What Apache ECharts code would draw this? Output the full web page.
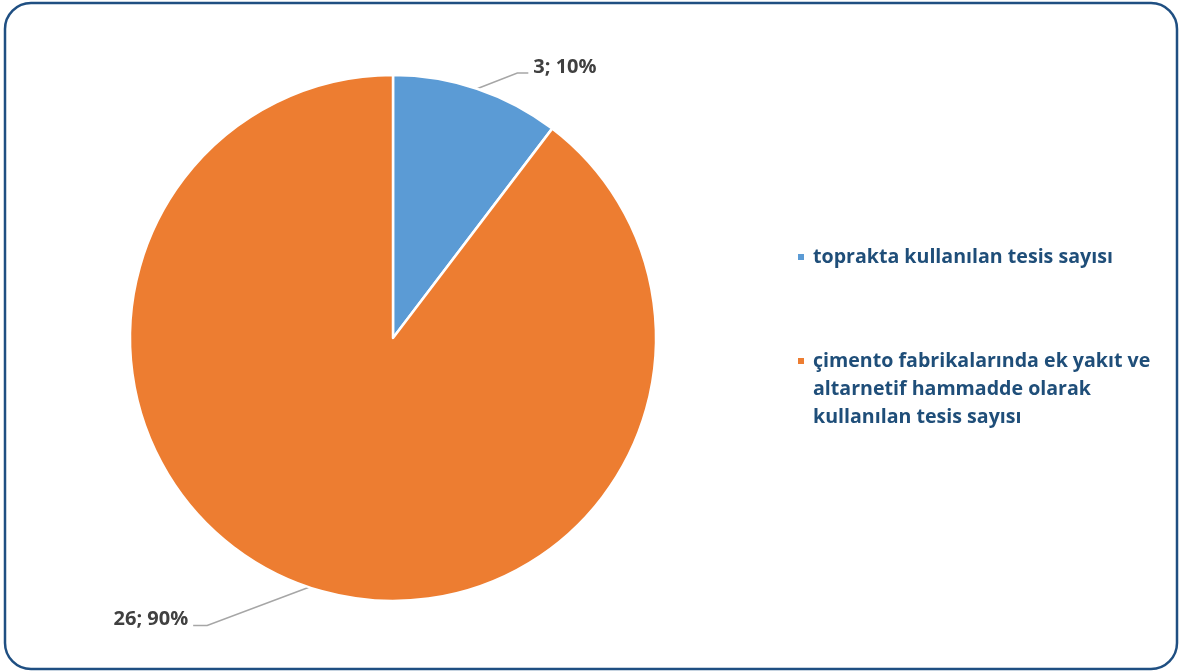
<!DOCTYPE html>
<html>
<head>
<meta charset="utf-8">
<script src="https://cdn.jsdelivr.net/npm/echarts@6/dist/echarts.min.js"></script>
<style>
  html, body { margin: 0; padding: 0; background: #ffffff; }
  #chart { width: 1180px; height: 672px; }
</style>
</head>
<body>
<div id="chart"></div>
<script>
// Facility counts by disposal route
const categories = [
  'toprakta kullanılan tesis sayısı',
  'çimento fabrikalarında ek yakıt ve altarnetif hammadde olarak kullanılan tesis sayısı'
];
const values = [3, 26];
const colors = ['#5b9bd5', '#ed7d31'];
// Legend text broken into display lines
const legendLines = [
  ['toprakta kullanılan tesis sayısı'],
  ['çimento fabrikalarında ek yakıt ve', 'altarnetif hammadde olarak', 'kullanılan tesis sayısı']
];

const FONT = '"Open Sans", "DejaVu Sans", sans-serif';
const LEGEND_LH = 28;

const chart = echarts.init(document.getElementById('chart'), null, { renderer: 'canvas' });

function legendFor(i, top) {
  const lines = legendLines[i];
  // blank lines above keep the marker level with the first text line
  const pad = [];
  for (let k = 1; k < lines.length; k++) pad.push('');
  const text = pad.concat(lines).join('\n');
  return {
    orient: 'vertical',
    left: 796,
    top: top,
    padding: 0,
    icon: 'rect',
    itemWidth: 8,
    itemHeight: 8,
    selectedMode: false,
    data: [categories[i]],
    formatter: function () { return text; },
    textStyle: {
      fontFamily: FONT,
      fontWeight: 'bold',
      fontSize: 19.6,
      color: '#1f4e79',
      lineHeight: LEGEND_LH,
      padding: [0, 0, 0, 3]
    }
  };
}

chart.setOption({
  animation: false,
  backgroundColor: '#ffffff',
  color: colors,
  graphic: [{
    type: 'rect',
    shape: { x: 5, y: 3, width: 1172, height: 666, r: 26 },
    style: { fill: 'none', stroke: '#1f4f82', lineWidth: 2.5 },
    silent: true
  }],
  legend: [legendFor(0, 243), legendFor(1, 291)],
  series: [{
    type: 'pie',
    center: [393, 338],
    radius: 263,
    startAngle: 90,
    clockwise: true,
    percentPrecision: 0,
    avoidLabelOverlap: false,
    itemStyle: { borderColor: '#ffffff', borderWidth: 2.5 },
    label: {
      show: true,
      position: 'outside',
      formatter: '{c}; {d}%',
      fontFamily: FONT,
      fontWeight: 'bold',
      fontSize: 20,
      color: '#404040',
      distanceToLabelLine: 5
    },
    labelLine: {
      show: true,
      lineStyle: { color: '#a6a6a6', width: 1.5 }
    },
    labelLayout: function (p) {
      const r = p.labelRect;
      const pts = p.labelLinePoints;
      if (!pts) return {};
      const start = pts[0];
      const cy = r.y + r.height / 2 + 6;
      if (p.dataIndex === 0) {
        return { labelLinePoints: [start, [r.x - 16, cy], [r.x - 5, cy]] };
      }
      const right = r.x + r.width;
      return { labelLinePoints: [start, [right + 19, cy], [right + 5, cy]] };
    },
    data: categories.map(function (name, i) {
      return {
        name: name,
        value: values[i],
        labelLine: i === 0 ? { length: 23, length2: 44 } : { length: 34, length2: 105 }
      };
    })
  }]
});
</script>
</body>
</html>
